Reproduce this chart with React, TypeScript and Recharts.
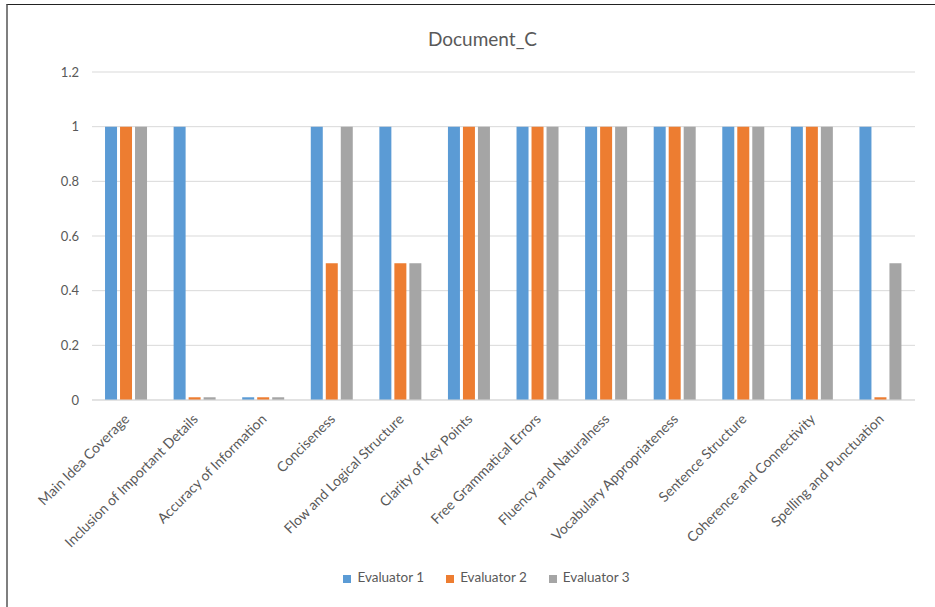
import React from 'react'
import {
  BarChart,
  Bar,
  XAxis,
  YAxis,
  CartesianGrid,
  Legend,
} from 'recharts'

const categories = [
  'Main Idea Coverage',
  'Inclusion of Important Details',
  'Accuracy of Information',
  'Conciseness',
  'Flow and Logical Structure',
  'Clarity of Key Points',
  'Free Grammatical Errors',
  'Fluency and Naturalness',
  'Vocabulary Appropriateness',
  'Sentence Structure',
  'Coherence and Connectivity',
  'Spelling and Punctuation',
]

const evaluator1 = [1, 1, 0.01, 1, 1, 1, 1, 1, 1, 1, 1, 1]
const evaluator2 = [1, 0.01, 0.01, 0.5, 0.5, 1, 1, 1, 1, 1, 1, 0.01]
const evaluator3 = [1, 0.01, 0.01, 1, 0.5, 1, 1, 1, 1, 1, 1, 0.5]

const yTicks = [0, 0.2, 0.4, 0.6, 0.8, 1, 1.2]

const FONT = 'Lato, "Open Sans", sans-serif'
const TEXT = '#595959'

const data = categories.map((name, i) => ({
  name,
  e1: evaluator1[i],
  e2: evaluator2[i],
  e3: evaluator3[i],
}))

type TickProps = {
  x: number;
  y: number;
  payload: { value: string };
}

const AngledTick = ({ x, y, payload }: TickProps) => (
  <text
    x={x + 4}
    y={y + 12}
    transform={`rotate(-45, ${x + 4}, ${y + 12})`}
    textAnchor="end"
    fill={TEXT}
    fontSize={14}
    fontFamily={FONT}
  >
    {payload.value}
  </text>
)

export default function App() {
  return (
    <div style={{ position: 'absolute', left: 0, top: 0, width: 935, height: 607, background: '#fff', fontFamily: FONT }}>
      <div
        style={{
          position: 'absolute',
          left: 6,
          top: 4,
          width: 929,
          height: 603,
          borderLeft: '2px solid #7f7f7f',
          borderTop: '1px solid #222',
        }}
      />
      <div
        style={{
          position: 'absolute',
          left: 0,
          width: 935,
          top: 27,
          textAlign: 'center',
          fontSize: 19,
          color: TEXT,
          paddingLeft: 30,
          boxSizing: 'border-box',
        }}
      >
        Document_C
      </div>
      <BarChart
        width={935}
        height={607}
        data={data}
        margin={{ top: 72, right: 20, bottom: 10, left: 32 }}
        barCategoryGap="19%"
        barGap={3}
      >
        <CartesianGrid vertical={false} stroke="#d9d9d9" />
        <XAxis
          dataKey="name"
          interval={0}
          height={181}
          tick={AngledTick}
          tickLine={false}
          axisLine={{ stroke: '#d9d9d9' }}
        />
        <YAxis
          domain={[0, 1.2]}
          ticks={yTicks}
          width={60}
          axisLine={false}
          tickLine={false}
          tickMargin={7}
          tick={{ fill: TEXT, fontSize: 13, fontFamily: FONT }}
        />
        <Legend
          iconType="square"
          iconSize={8}
          wrapperStyle={{ top: 569, paddingLeft: 48, boxSizing: 'border-box', fontSize: 13.5, fontFamily: FONT, color: TEXT }}
          formatter={(value) => <span style={{ color: TEXT, marginLeft: 2, marginRight: 12 }}>{value}</span>}
        />
        <Bar dataKey="e1" name="Evaluator 1" fill="#5B9BD5" isAnimationActive={false} />
        <Bar dataKey="e2" name="Evaluator 2" fill="#ED7D31" isAnimationActive={false} />
        <Bar dataKey="e3" name="Evaluator 3" fill="#A5A5A5" isAnimationActive={false} />
      </BarChart>
    </div>
  )
}
